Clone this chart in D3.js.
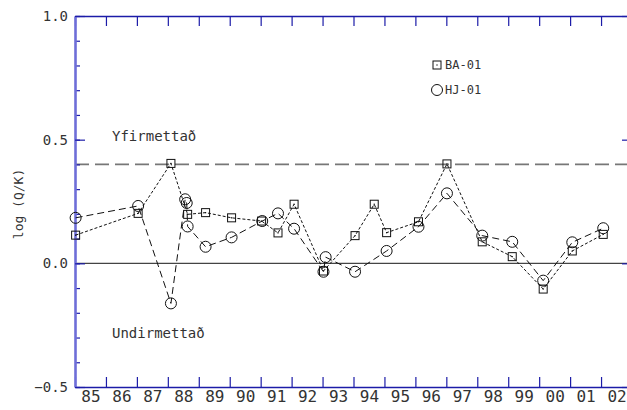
<!DOCTYPE html>
<html>
<head>
<meta charset="utf-8">
<script src="https://cdn.jsdelivr.net/npm/d3@7"></script>
<style>
  body { margin: 0; background: #fff; }
  text { font-family: "DejaVu Sans Mono", monospace; fill: #333; }
</style>
</head>
<body>
<div id="chart"></div>
<script>
// values, x in decimal years
const baYears = [1985.02, 1987.04, 1988.10, 1988.64, 1989.22, 1990.06, 1991.03, 1991.56, 1992.08, 1993.03,
  1994.05, 1994.67, 1995.07, 1996.10, 1997.02, 1998.16, 1999.13, 2000.13, 2001.07, 2002.07];
const baValues = [0.114, 0.202, 0.404, 0.198, 0.205, 0.184, 0.171, 0.123, 0.239, -0.031,
  0.112, 0.239, 0.124, 0.168, 0.402, 0.087, 0.027, -0.104, 0.050, 0.117];
const hjYears = [1985.02, 1987.04, 1988.10, 1988.56, 1988.61, 1988.64, 1989.22, 1990.06, 1991.05, 1991.56, 1992.08,
  1993.03, 1993.10, 1994.05, 1995.07, 1996.10, 1997.02, 1998.16, 1999.13, 2000.13, 2001.07, 2002.07];
const hjValues = [0.184, 0.232, -0.162, 0.259, 0.244, 0.149, 0.067, 0.105, 0.171, 0.202, 0.140,
  -0.034, 0.025, -0.034, 0.050, 0.148, 0.283, 0.112, 0.087, -0.070, 0.085, 0.142];
const yearLabels = ["85", "86", "87", "88", "89", "90", "91", "92", "93", "94", "95", "96", "97", "98", "99", "00", "01", "02"];
const yTickValues = [-0.5, 0, 0.5, 1.0];
const yTickLabels = ["\u22120.5", "0.0", "0.5", "1.0"];
const limitValue = 0.4;
const seriesNames = ["BA-01", "HJ-01"];

const axisColor = "#1c1ca8";

var margin = {top: 16, right: -5, bottom: 23, left: 75},
    width = 627 - margin.left - margin.right,
    height = 410 - margin.top - margin.bottom;

var svg = d3.select("#chart")
  .append("svg")
    .attr("width", 627)
    .attr("height", 410)
  .append("g")
    .attr("transform", "translate(" + margin.left + "," + margin.top + ")");

var x = d3.scaleLinear().domain([1985, 2003]).range([0, width]);
var y = d3.scaleLinear().domain([-0.5, 1.0]).range([height, 0]);

// reference lines
svg.append("line")
  .attr("x1", x(1985)).attr("x2", x(2003))
  .attr("y1", y(0)).attr("y2", y(0))
  .attr("stroke", "#444").attr("stroke-width", 1.2);

svg.append("line")
  .attr("x1", x(1985)).attr("x2", x(2003))
  .attr("y1", y(limitValue)).attr("y2", y(limitValue))
  .attr("stroke", "#777").attr("stroke-width", 1.6)
  .attr("stroke-dasharray", "14,6");

// axes
function styleAxis(g) {
  g.selectAll("path.domain").attr("stroke", axisColor).attr("stroke-width", 1.5);
  g.selectAll(".tick line").attr("stroke", axisColor).attr("stroke-width", 1.2);
  g.selectAll("text").attr("fill", "#333").style("font-family", "DejaVu Sans Mono");
}

svg.append("g")
  .attr("transform", "translate(0," + height + ")")
  .call(d3.axisBottom(x).tickValues(d3.range(1985, 2004)).tickSize(-10).tickSizeOuter(0).tickFormat(""))
  .call(styleAxis);

svg.append("g")
  .call(d3.axisTop(x).tickValues(d3.range(1985, 2004)).tickSize(-10).tickSizeOuter(0).tickFormat(""))
  .call(styleAxis);

// year labels sit between the ticks
svg.append("g")
  .attr("transform", "translate(0," + height + ")")
  .call(d3.axisBottom(x).tickValues(d3.range(1985, 2003).map(d => d + 0.5)).tickSize(0).tickPadding(4)
    .tickFormat((d, i) => yearLabels[i]))
  .call(g => g.select(".domain").remove())
  .call(styleAxis)
  .selectAll("text").style("font-size", "16px");

svg.append("g")
  .call(d3.axisLeft(y).tickValues(d3.range(-5, 11).map(d => d / 10)).tickSize(-5).tickSizeOuter(0).tickFormat(""))
  .call(g => g.select(".domain").remove())
  .call(styleAxis);

svg.append("g")
  .call(d3.axisLeft(y).tickValues(yTickValues).tickSize(-10).tickSizeOuter(0).tickPadding(7)
    .tickFormat((d, i) => yTickLabels[i]))
  .call(styleAxis)
  .call(g => g.select(".domain").attr("stroke", "#6e6ed8").attr("stroke-width", 2.6))
  .selectAll("text").style("font-size", "14px");

svg.append("g")
  .attr("transform", "translate(" + width + ",0)")
  .call(d3.axisRight(y).tickValues(yTickValues).tickSize(-10).tickSizeOuter(0).tickFormat(""))
  .call(styleAxis);

// y title
svg.append("text")
  .attr("transform", "translate(" + (-52) + "," + y(0.24) + ")rotate(-90)")
  .attr("text-anchor", "middle")
  .style("font-size", "13px")
  .text("log (Q/K)");

svg.append("text").attr("x", 37).attr("y", 125).style("font-size", "14px").text("Yfirmettað");
svg.append("text").attr("x", 37).attr("y", 322).style("font-size", "14px").text("Undirmettað");

// series
var ba = baYears.map((d, i) => ({year: d, value: baValues[i]}));
var hj = hjYears.map((d, i) => ({year: d, value: hjValues[i]}));
var line = d3.line().x(d => x(d.year)).y(d => y(d.value));

svg.append("path").datum(ba)
  .attr("d", line).attr("fill", "none")
  .attr("stroke", "#111").attr("stroke-width", 1)
  .attr("stroke-dasharray", "3,2");

svg.append("path").datum(hj)
  .attr("d", line).attr("fill", "none")
  .attr("stroke", "#111").attr("stroke-width", 1)
  .attr("stroke-dasharray", "7,4");

function squareMarks(sel) {
  sel.append("rect")
    .attr("x", -4).attr("y", -4).attr("width", 8).attr("height", 8)
    .attr("fill", "none").attr("stroke", "#111").attr("stroke-width", 1);
  sel.append("rect")
    .attr("x", -0.6).attr("y", -0.6).attr("width", 1.2).attr("height", 1.2)
    .attr("fill", "#111");
}

svg.selectAll("g.ba")
  .data(ba)
  .enter()
  .append("g")
  .attr("class", "ba")
  .attr("transform", d => "translate(" + x(d.year) + "," + y(d.value) + ")")
  .call(squareMarks);

svg.selectAll("circle.hj")
  .data(hj)
  .enter()
  .append("circle")
  .attr("class", "hj")
  .attr("cx", d => x(d.year))
  .attr("cy", d => y(d.value))
  .attr("r", 5.5)
  .attr("fill", "none")
  .attr("stroke", "#111")
  .attr("stroke-width", 1);

// legend
var legend = svg.append("g").attr("transform", "translate(362,49)");
legend.append("g").call(squareMarks);
legend.append("circle").attr("cy", 25).attr("r", 5.5)
  .attr("fill", "none").attr("stroke", "#111").attr("stroke-width", 1);
legend.selectAll("text.leg")
  .data(seriesNames)
  .enter()
  .append("text")
  .attr("class", "leg")
  .attr("x", 8)
  .attr("y", (d, i) => i * 25)
  .attr("dy", "0.35em")
  .style("font-size", "12px")
  .text(d => d);
</script>
</body>
</html>
